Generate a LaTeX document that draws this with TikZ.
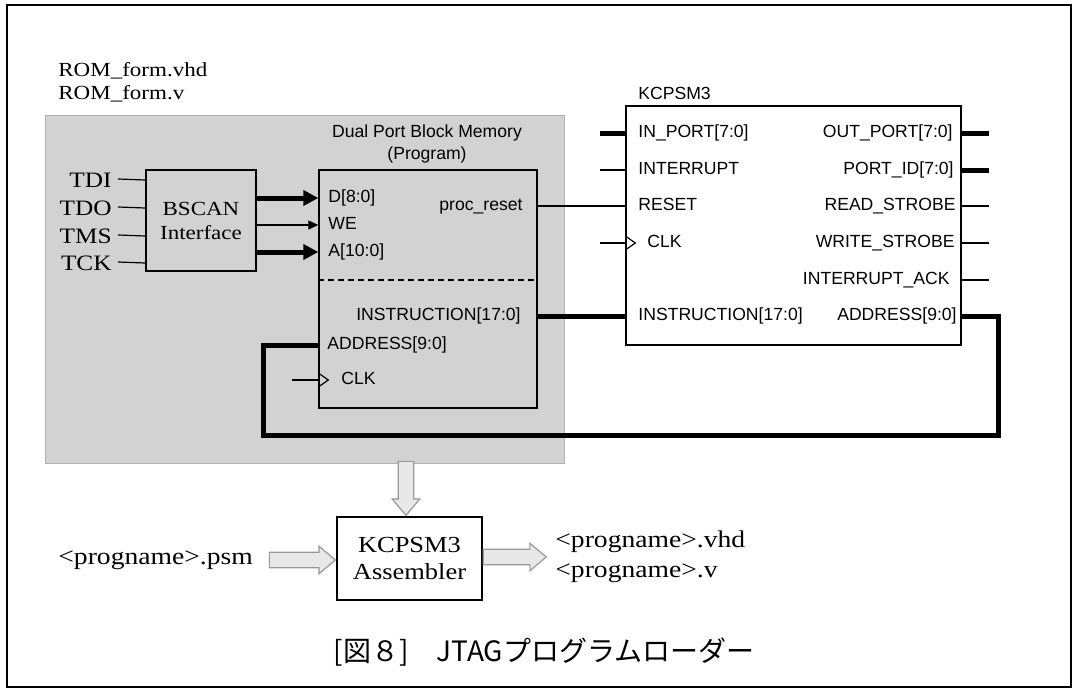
\documentclass[tikz,border=0pt]{standalone}
\usepackage{fontspec}
\setmainfont{Liberation Serif}
\setsansfont{Liberation Sans}
\newfontfamily\rmwide[FakeStretch=1.15]{Liberation Serif}
\newfontfamily\jpfont{Noto Sans CJK JP}
\usetikzlibrary{arrows.meta,positioning,shapes.arrows,calc}
\tikzset{
  blk/.style={
    draw,
    line width=0.7pt,
    inner sep=0pt
  },
}
\tikzset{
  bus/.style={line width=2.5pt},
  sig/.style={line width=0.6pt},
  bighead/.style={-{Triangle[length=7.5pt,width=7.5pt]}},
  smallhead/.style={-{Triangle[length=5pt,width=4.5pt]}},
  pinL/.style={
    anchor=west,
    font=\sffamily\fontsize{8.8}{10}\selectfont,
    inner sep=0pt,
    text height=6.4pt,
    text depth=1.6pt
  },
  pinR/.style={
    pinL,
    anchor=east
  },
  rmtext/.style={
    font=\rmwide\fontsize{10}{11.5}\selectfont,
    inner sep=0pt
  },
  jtagpin/.style={
    rmtext,
    anchor=east,
    font=\rmwide\fontsize{11}{12}\selectfont
  },
  hollow/.style={
    single arrow,
    draw=gray!80,
    fill=gray!18,
    line width=0.6pt,
    inner sep=3.6pt,
    single arrow head extend=3pt,
    single arrow tip angle=80
  }
}

\begin{document}
\begin{tikzpicture}[x=0.5pt,y=-0.5pt]
    \useasboundingbox (0,0) rectangle (1074,690);
    \draw[line width=1pt] (7,5) rectangle (1071,687);

    % program memory wrapper
    \node[rmtext, anchor=west, align=left] (romname) at (58,82) {ROM\_form.vhd\\ROM\_form.v};
    \node[fill=gray!35, draw=gray!60, minimum width=259.5pt, minimum height=174pt, inner sep=0pt] (prog) at (304.5,289) {};
    \node[font=\sffamily\fontsize{8.8}{11}\selectfont, align=center, inner sep=0pt] (memtitle) at (427,144) {Dual Port Block Memory\\(Program)};

    % boxes
    \node[blk, minimum width=55pt, minimum height=50.5pt, align=center, font=\rmwide\fontsize{10}{12}\selectfont] (bscan) at (201,220.5) {BSCAN\\Interface};
    \node[blk, minimum width=109pt, minimum height=119pt] (mem) at (428,289) {};
    \node[blk, minimum width=167.5pt, minimum height=119.5pt] (kc) at (793.5,225.5) {};
    \node[pinL] (kctitle) at (638,95) {KCPSM3};
    \node[blk, fill=white, minimum width=72.5pt, minimum height=41.5pt, align=center, font=\rmwide\fontsize{11.5}{13.5}\selectfont] (asm) at (409.5,558.5) {KCPSM3\\Assembler};

    % jtag pins
    \node[jtagpin] (tdi) at (112,180) {TDI};
    \node[jtagpin] (tdo) at (112,208) {TDO};
    \node[jtagpin] (tms) at (112,236) {TMS};
    \node[jtagpin] (tck) at (112,263) {TCK};
    \foreach \p in {tdi,tdo,tms,tck}
        \draw[sig] (\p.east) ++(6,-1) -- (bscan.west |- \p.east);

    % memory pins
    \coordinate (split) at (0,280);
    \draw[sig, dash pattern=on 3pt off 2pt] (mem.west |- split) -- (mem.east |- split);
    \node[pinL] (md) at (328,198) {D[8:0]};
    \node[pinL] (mwe) at (328,225) {WE};
    \node[pinL] (ma) at (328,252) {A[10:0]};
    \node[pinR] (mrst) at (523,206) {proc\_reset};
    \node[pinR] (minst) at (521,316) {INSTRUCTION[17:0]};
    \node[pinL] (maddr) at (327,345) {ADDRESS[9:0]};
    \node[pinL] (mclk) at (341,380) {CLK};
    \draw[bus, bighead] (bscan.east |- md) -- (mem.west |- md);
    \draw[sig, smallhead] (bscan.east |- mwe) -- (mem.west |- mwe);
    \draw[bus, bighead] (bscan.east |- ma) -- (mem.west |- ma);
    \coordinate (mclkin) at (292,380);
    \draw[sig] (mclkin) -- (mem.west |- mclk);
    \draw[sig] (mem.west |- mclk) ++(0,-7) -- ++(10,7) -- ++(-10,7);

    % KCPSM3 pins
    \node[pinL] (kin) at (638,133) {IN\_PORT[7:0]};
    \node[pinL] (kint) at (638,170) {INTERRUPT};
    \node[pinL] (krst) at (638,206) {RESET};
    \node[pinL] (kclk) at (647,243) {CLK};
    \node[pinL] (kinst) at (638,316) {INSTRUCTION[17:0]};
    \node[pinR] (kout) at (953,133) {OUT\_PORT[7:0]};
    \node[pinR] (kpid) at (954,170) {PORT\_ID[7:0]};
    \node[pinR] (krd) at (956,206) {READ\_STROBE};
    \node[pinR] (kwr) at (955,243) {WRITE\_STROBE};
    \node[pinR] (kack) at (950,280) {INTERRUPT\_ACK};
    \node[pinR] (kaddr) at (957,316) {ADDRESS[9:0]};
    \coordinate (kstubL) at (600,0);
    \coordinate (kstubR) at (989,0);
    \foreach \p/\w in {kin/bus, kint/sig, kclk/sig}
        \draw[\w] (kstubL |- \p) -- (kc.west |- \p);
    \foreach \p/\w in {kout/bus, kpid/bus, krd/sig, kwr/sig, kack/sig}
        \draw[\w] (kc.east |- \p) -- (kstubR |- \p);
    \draw[sig] (kc.west |- kclk) ++(0,-7) -- ++(10,7) -- ++(-10,7);

    % connections between the blocks
    \draw[sig] (mem.east |- krst) -- (kc.west |- krst);
    \draw[bus] (mem.east |- kinst) -- (kc.west |- kinst);
    \coordinate (loopR) at (998,435);
    \coordinate (loopL) at (263,435);
    \draw[bus, line join=miter] (kc.east |- kaddr) -| (loopR) -- (loopL) |- (mem.west |- maddr);

    % assembler flow
    \node[rmtext, font=\rmwide\fontsize{12}{14}\selectfont, anchor=west] (psm) at (58,560) {<progname>.psm};
    \node[rmtext, font=\rmwide\fontsize{12}{15}\selectfont, anchor=west, align=left] (outfiles) at (555,557) {<progname>.vhd\\<progname>.v};
    \node[hollow, minimum height=33pt, anchor=tip] (inarr) at (asm.west |- psm) {};
    \node[hollow, minimum height=31.5pt, anchor=tail] (outarr) at (asm.east |- outfiles) {};
    \node[hollow, shape border rotate=270, minimum height=27pt, anchor=tip] (dnarr) at (asm.north -| 406,0) {};

    % caption
    \node[font=\jpfont\fontsize{14}{16}\selectfont, inner sep=0pt] (caption) at (544,652) {[図８]　JTAGプログラムローダー};
\end{tikzpicture}
\end{document}
